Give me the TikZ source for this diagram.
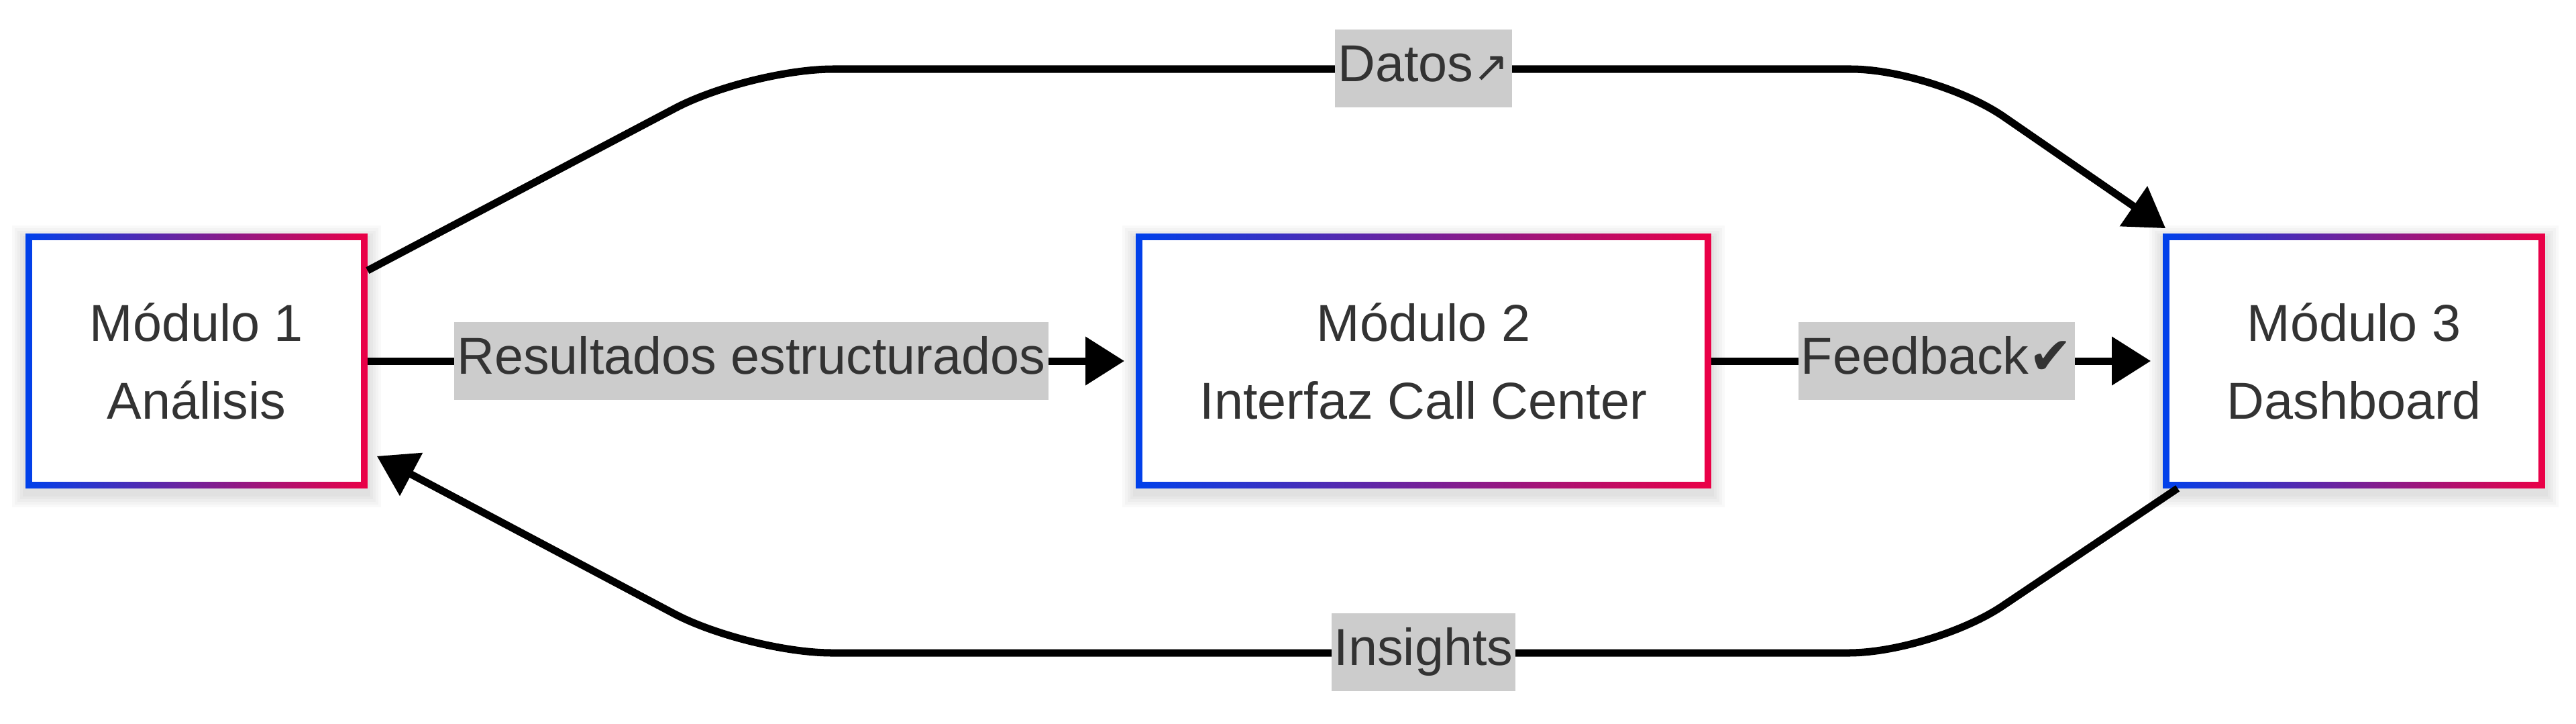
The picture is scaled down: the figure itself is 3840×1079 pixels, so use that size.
\documentclass[tikz,border=0pt]{standalone}
\usepackage{fontspec}
\setmainfont{Liberation Sans}
\newfontfamily\symfont{DejaVu Sans}
\usetikzlibrary{arrows.meta,backgrounds}
\definecolor{mblue}{RGB}{0,65,235}
\definecolor{mred}{RGB}{235,0,70}
\definecolor{txt}{RGB}{51,51,51}
\definecolor{lblbg}{RGB}{204,204,204}
\newcommand{\modbox}[1]{%
  \foreach \i in {1,...,5}{%
    \fill[black,opacity=0.022] ([shift={(-\i*4,\i*4+8)}]#1.south west) rectangle ([shift={(\i*4,-\i*4+8)}]#1.north east);
  }
  \shade[left color=mblue, right color=mred] (#1.south west) rectangle (#1.north east);
  \fill[white] ([shift={(10,-10)}]#1.south west) rectangle ([shift={(-10,10)}]#1.north east);
}
\begin{document}
\begin{tikzpicture}[x=0.01cm,y=-0.01cm,
  modnode/.style={inner sep=0pt, minimum height=3.78cm, text=txt, align=center, font=\fontsize{22}{33}\selectfont},
  edge/.style={line width=0.11cm, black, -{Triangle[length=0.58cm,width=0.7cm]}},
  lbl/.style={fill=lblbg, text=txt, inner xsep=0.04cm, inner ysep=6pt, text height=16pt, text depth=5pt, font=\fontsize{22}{33}\selectfont}
]
\useasboundingbox (0,0) rectangle (3840,1079);
\node[modnode, minimum width=5.08cm] (m1) at (293,538) {Módulo 1\\Análisis};
\node[modnode, minimum width=8.56cm] (m2) at (2122,538) {Módulo 2\\Interfaz Call Center};
\node[modnode, minimum width=5.68cm] (m3) at (3509,538) {Módulo 3\\Dashboard};
\begin{pgfonlayer}{background}
  \fill[white] (0,0) rectangle (3840,1079);
  \modbox{m1}
  \modbox{m2}
  \modbox{m3}
\end{pgfonlayer}
\draw[edge, shorten >=0.17cm] (m1.east) -- (m2.west);
\draw[edge, shorten >=0.18cm] (m2.east) -- (m3.west);
\coordinate (ta) at (1117,103);
\coordinate (tb) at (2884,103);
\draw[edge, rounded corners=1.25cm] ([shift={(0,55)}]m1.north east) -- (ta) -- (tb) -- ([shift={(4,-8)}]m3.north west);
\coordinate (ba) at (2881,973);
\coordinate (bb) at (1115,973);
\draw[edge, rounded corners=1.25cm] ([shift={(22,0)}]m3.south west) -- (ba) -- (bb) -- ([shift={(14,-48)}]m1.south east);
\node[lbl] (l1) at (1120,538) {Resultados estructurados};
\node[lbl] (l2) at (2887,538) {Feedback{\symfont ✔}};
\node[lbl] (l3) at (2122,102) {Datos{\symfont\fontsize{18}{18}\selectfont ↗}};
\node[lbl] (l4) at (2122,972) {Insights};
\end{tikzpicture}
\end{document}
